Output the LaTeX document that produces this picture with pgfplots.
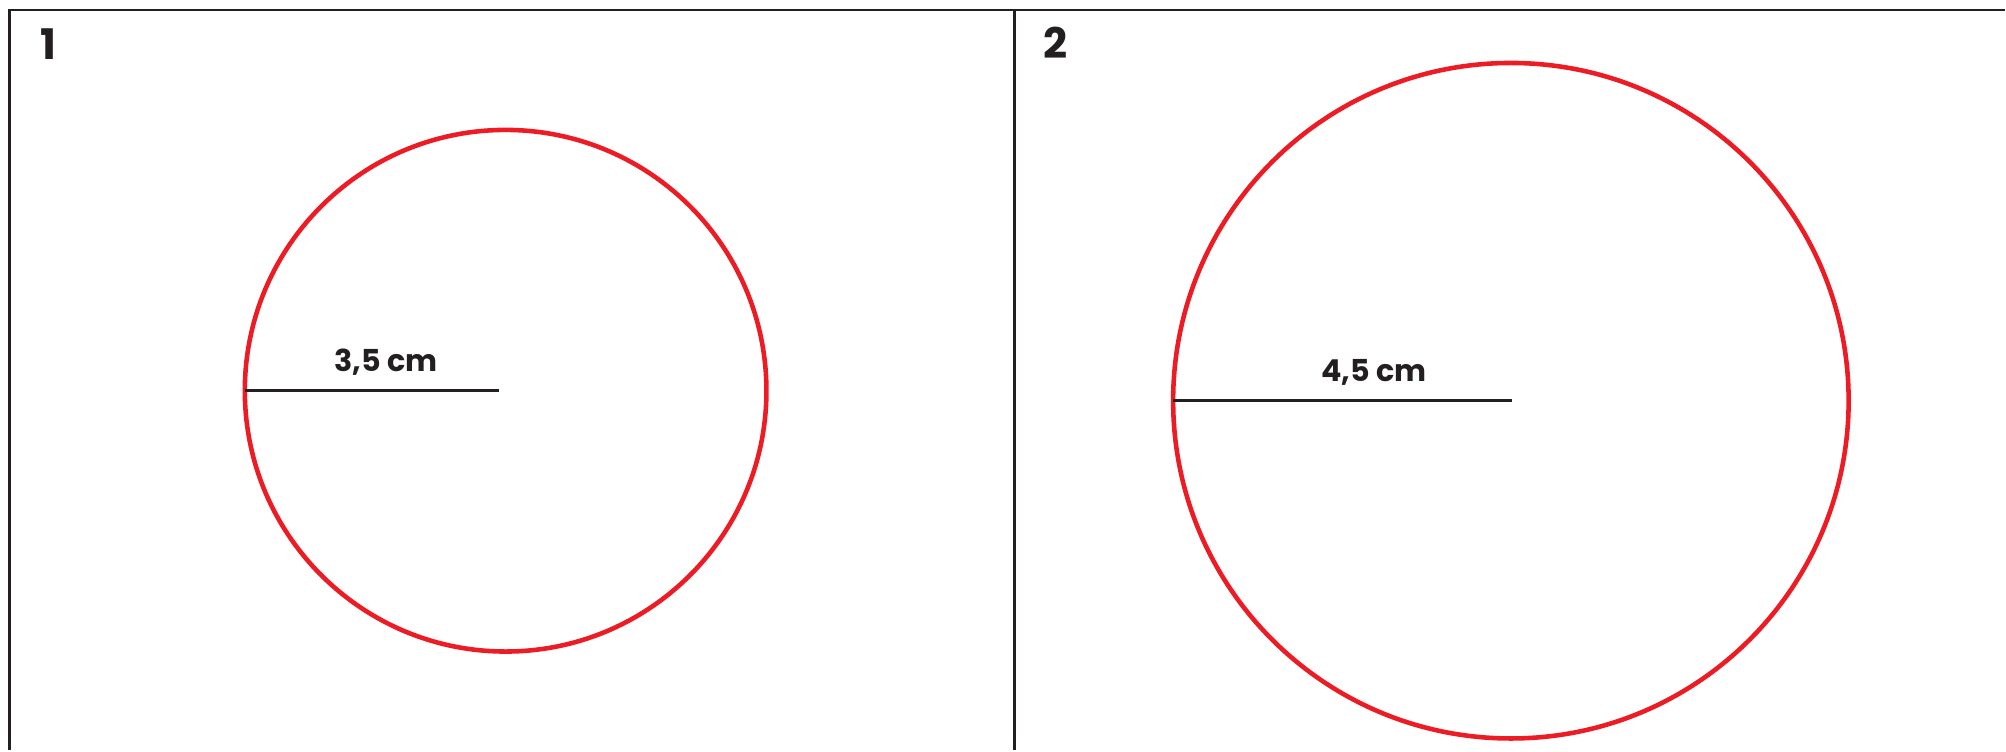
\documentclass[border=0pt]{standalone}
\usepackage{pgfplots}
\pgfplotsset{compat=1.18}
\usepackage{fontspec}
\setmainfont{Poppins}
\definecolor{cred}{HTML}{ED1C24}
\definecolor{cdark}{HTML}{231F20}
\begin{document}
\begin{tikzpicture}
\begin{axis}[
  scale only axis, width=20.06cm, height=7.51cm,
  xmin=0, xmax=2006, ymin=0, ymax=751, y dir=reverse,
  hide axis, clip=false,
]
\path (rel axis cs:0,0) rectangle (rel axis cs:1,1);
% frame
\addplot[cdark, line width=0.85pt] coordinates {(9.5,751) (9.5,10) (2006,10)};
\addplot[cdark, line width=0.85pt] coordinates {(1015,10) (1015,751)};
% circles
\draw[cred, line width=1.3pt] (axis cs:506,391) circle [radius=261];
\draw[cred, line width=1.3pt] (axis cs:1512,401) circle [radius=338];
% radii
\addplot[cdark, line width=0.7pt] coordinates {(245,391) (499,391)};
\addplot[cdark, line width=0.7pt] coordinates {(1174,401) (1513,401)};
% labels
\node[anchor=base, font=\fontsize{8.6}{9}\selectfont\bfseries, text=cdark, inner sep=0pt] at (axis cs:386.5,372) {3,5 cm};
\node[anchor=base, font=\fontsize{8.6}{9}\selectfont\bfseries, text=cdark, inner sep=0pt] at (axis cs:1375,382) {4,5 cm};
\node[anchor=base, font=\fontsize{12}{13}\selectfont\bfseries, text=cdark, inner sep=0pt] at (axis cs:48,60) {1};
\node[anchor=base, font=\fontsize{12}{13}\selectfont\bfseries, text=cdark, inner sep=0pt] at (axis cs:1056,59) {2};
\end{axis}
\end{tikzpicture}
\end{document}
